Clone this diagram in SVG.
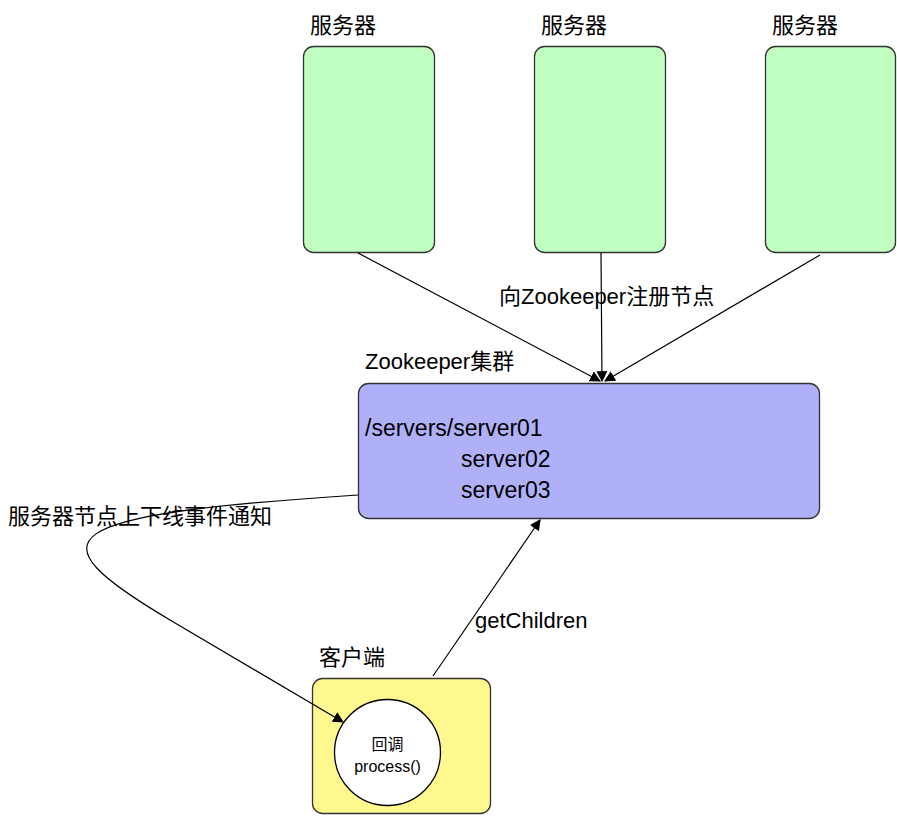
<svg xmlns="http://www.w3.org/2000/svg" width="897" height="816" viewBox="0 0 897 816">
<style>
text{font-family:"Liberation Sans","Noto Sans CJK SC",sans-serif;fill:#000}
.t{font-size:22px}
.b{font-size:23px}
.s{font-size:16px}
.srv{fill:#c0ffc0;stroke:#333;stroke-width:1.3}
.c{fill:none;stroke:#000;stroke-width:1.2}
</style>
<defs>
<marker id="ah" viewBox="0 0 10 10" refX="9" refY="5" markerWidth="11" markerHeight="11" markerUnits="userSpaceOnUse" orient="auto">
<path d="M0,0 L10,5 L0,10 z" fill="#000"/>
</marker>
</defs>
<rect width="897" height="816" fill="#fff"/>
<g id="server1"><rect class="srv" x="303.5" y="46.5" width="131" height="206" rx="10"/><text class="t" x="310" y="33">服务器</text></g>
<g id="server2"><rect class="srv" x="534.5" y="46.5" width="131" height="206" rx="10"/><text class="t" x="541" y="33">服务器</text></g>
<g id="server3"><rect class="srv" x="765.5" y="46.5" width="130" height="206" rx="10"/><text class="t" x="772" y="33">服务器</text></g>
<g id="zookeeper">
<rect x="358.5" y="383.5" width="461" height="135" rx="10" fill="#b0b0f8" stroke="#333" stroke-width="1.3"/>
<text class="t" x="365" y="369">Zookeeper集群</text>
<text class="b" x="365" y="436">/servers/server01</text>
<text class="b" x="461" y="467">server02</text>
<text class="b" x="461" y="498">server03</text>
</g>
<g id="client">
<rect x="312.5" y="678.5" width="178" height="135" rx="10" fill="#fff88f" stroke="#333" stroke-width="1.3"/>
<text class="t" x="319" y="665">客户端</text>
<circle cx="387.5" cy="752.5" r="53" fill="#fff" stroke="#000" stroke-width="1.3"/>
<text class="s" x="387.5" y="750" text-anchor="middle">回调</text>
<text class="s" x="387.5" y="772" text-anchor="middle">process()</text>
</g>
<g id="connectors">
<path class="c" d="M358,253 L600,381" marker-end="url(#ah)"/>
<path class="c" d="M601,253 L602,381" marker-end="url(#ah)"/>
<path class="c" d="M820,255 L605,381" marker-end="url(#ah)"/>
<path class="c" d="M433,676 L540,520" marker-end="url(#ah)"/>
<path class="c" d="M358,495 C50,515 30,537 170,620 L343,722" marker-end="url(#ah)"/>
<text class="t" x="499" y="304">向Zookeeper注册节点</text>
<text class="t" x="8" y="524">服务器节点上下线事件通知</text>
<text class="t" x="475" y="628">getChildren</text>
</g>
</svg>
